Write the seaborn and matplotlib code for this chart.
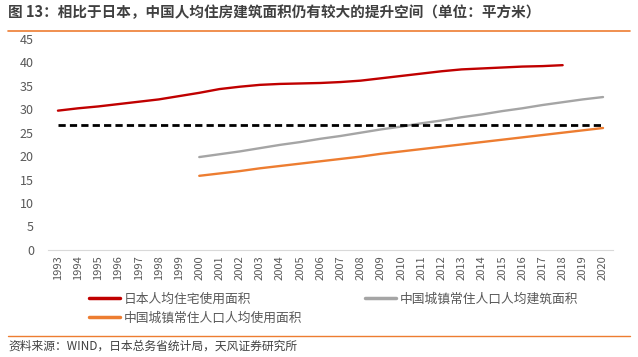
import matplotlib
matplotlib.use("Agg")
import matplotlib.pyplot as plt
import seaborn as sns
import pandas as pd
from matplotlib.lines import Line2D

# data
years = list(range(1993, 2021))
japan_use = [29.7, 30.2, 30.6, 31.1, 31.6, 32.1, 32.8, 33.5, 34.3, 34.8, 35.2, 35.4,
             35.5, 35.6, 35.8, 36.1, 36.6, 37.1, 37.6, 38.1, 38.5, 38.7, 38.9, 39.1,
             39.2, 39.4]
china_years = list(range(2000, 2021))
china_build = [19.8, 20.4, 21.0, 21.7, 22.4, 23.0, 23.7, 24.3, 25.0, 25.7, 26.3,
               27.0, 27.6, 28.3, 28.9, 29.6, 30.2, 30.9, 31.5, 32.1, 32.6]
china_use = [15.8, 16.3, 16.8, 17.4, 17.9, 18.4, 18.9, 19.4, 19.9, 20.5, 21.0,
             21.5, 22.0, 22.5, 23.0, 23.5, 24.0, 24.5, 25.0, 25.5, 26.0]
ref_level = 26.7

labels = ["日本人均住宅使用面积", "中国城镇常住人口人均建筑面积", "中国城镇常住人口人均使用面积"]
colors = ["#C00000", "#A5A5A5", "#ED7D31"]

sns.set_style("white")
plt.rcParams["font.family"] = ["Noto Sans CJK SC", "DejaVu Sans"]

fig = plt.figure(figsize=(6.38, 3.57), dpi=100)
ax = fig.add_axes([0.075, 0.30, 0.886, 0.591])

df_jp = pd.DataFrame({"year": years[:len(japan_use)], "v": japan_use})
df_cb = pd.DataFrame({"year": china_years, "v": china_build})
df_cu = pd.DataFrame({"year": china_years, "v": china_use})
df_ref = pd.DataFrame({"year": [years[0], years[-1]], "v": [ref_level, ref_level]})

sns.lineplot(data=df_jp, x="year", y="v", ax=ax, color=colors[0], lw=1.7)
sns.lineplot(data=df_cb, x="year", y="v", ax=ax, color=colors[1], lw=1.7)
sns.lineplot(data=df_cu, x="year", y="v", ax=ax, color=colors[2], lw=1.7)
sns.lineplot(data=df_ref, x="year", y="v", ax=ax, color="black", lw=2.0,
             linestyle=(0, (2.6, 1.5)))

ax.set_xlim(years[0] - 0.5, years[-1] + 0.5)
ax.set_ylim(0, 45)
ax.set_yticks(range(0, 46, 5))
ax.set_xticks(years)
ax.set_xticklabels([str(y) for y in years], rotation=90)
ax.set_xticks([y + 0.5 for y in [years[0] - 1] + years], minor=True)
ax.tick_params(axis="x", which="major", length=0, labelsize=8, labelcolor="#595959", pad=4)
ax.tick_params(axis="x", which="minor", length=5, color="#D9D9D9", width=1)
ax.tick_params(axis="y", length=0, labelsize=9, labelcolor="#595959", pad=10)
ax.set_xlabel("")
ax.set_ylabel("")
for s in ["top", "right", "left"]:
    ax.spines[s].set_visible(False)
ax.spines["bottom"].set_color("#D9D9D9")

handles = [Line2D([], [], color=colors[0], lw=2.5),
           Line2D([], [], color=colors[2], lw=2.5),
           Line2D([], [], color=colors[1], lw=2.5)]
fig.legend(handles, [labels[0], labels[2], labels[1]], ncol=2, frameon=False,
           loc="upper left", bbox_to_anchor=(0.132, 0.195), fontsize=9.2,
           labelcolor="#595959", handlelength=2.4, handletextpad=0.3,
           columnspacing=4.9, labelspacing=0.5, borderaxespad=0)

fig.text(0.013, 0.965, "图 13：相比于日本，中国人均住房建筑面积仍有较大的提升空间（单位：平方米）",
         fontsize=10.5, color="#404040", va="center", ha="left", fontweight="bold")
fig.add_artist(Line2D([0.013, 0.987], [0.913, 0.913], color="#ED7D31", lw=1.2,
                      transform=fig.transFigure))
fig.add_artist(Line2D([0.013, 0.987], [0.058, 0.058], color="#ED7D31", lw=1.0,
                      transform=fig.transFigure))
fig.text(0.013, 0.030, "资料来源：WIND，日本总务省统计局，天风证券研究所",
         fontsize=8.5, color="#404040", va="center", ha="left")

fig.savefig("out.png", dpi=100)
